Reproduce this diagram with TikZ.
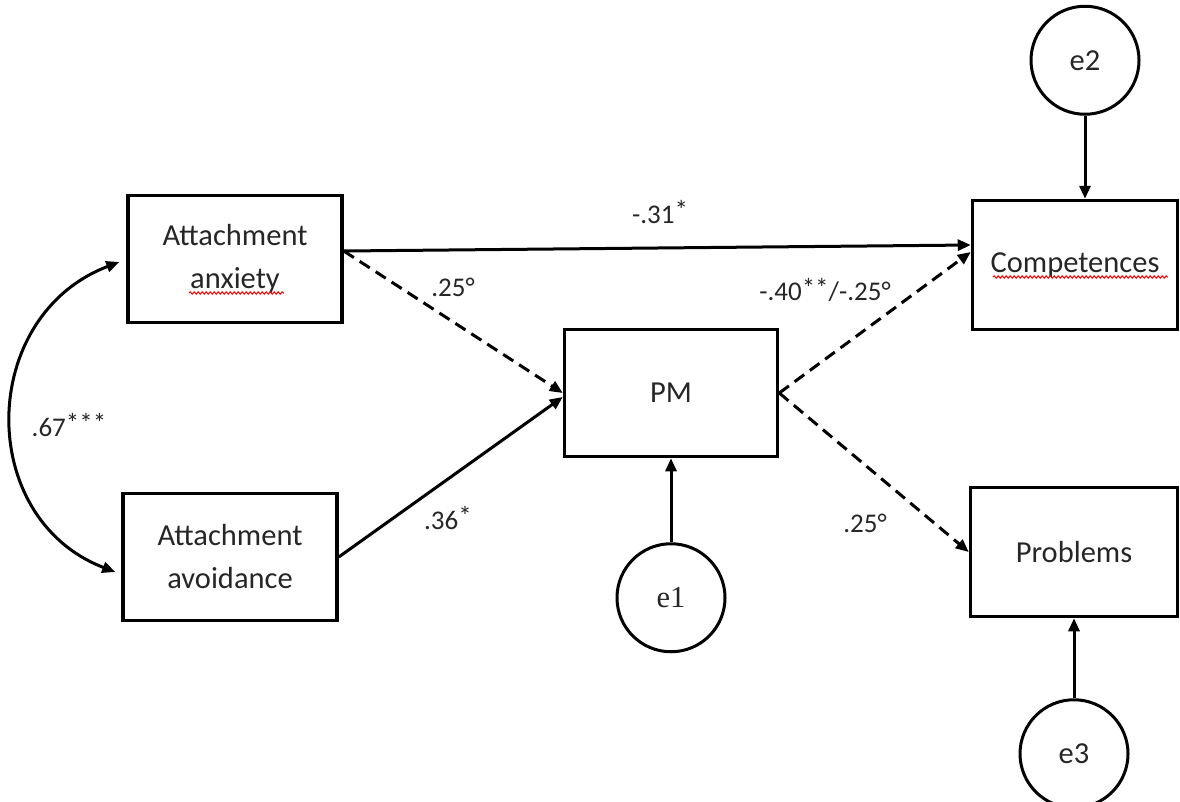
\documentclass[tikz,border=0pt]{standalone}
\usepackage{fontspec}
\setmainfont{Carlito}
\newfontfamily\eonefont{Liberation Serif}
\usetikzlibrary{positioning,arrows.meta,decorations.pathmorphing}

\newcommand\sig{\raisebox{.3ex}{*}}

\begin{document}
\begin{tikzpicture}[x=1pt, y=-1pt, node distance = 84pt,
    >={Triangle[length=13pt,width=11pt]},
    var/.style = {draw, line width=3.5pt, minimum width=214pt, minimum height=127pt,
                  align=center, text=black!85, font=\fontsize{30.5}{43}\selectfont},
    err/.style = {draw, circle, line width=3pt, minimum size=108pt, inner sep=0pt,
                  text=black!85, font=\fontsize{30.5}{36}\selectfont},
    path/.style = {line width=3pt, ->},
    dpath/.style = {path, dash pattern=on 12pt off 7pt},
    coef/.style = {text=black!85, font=\fontsize{27}{32}\selectfont},
    spell/.style = {red, line width=1pt, decorate,
                    decoration={snake, amplitude=1.2pt, segment length=4pt}}]

    \useasboundingbox (0,0) rectangle (1180,801);

    \node[var] (anx) at (235,259) {Attachment\\anxiety};
    \node[var] (avd) at (230,557) {Attachment\\avoidance};
    \node[var, minimum width=213pt] (pm) at (671,393) {PM};
    \node[var, minimum width=205pt, minimum height=129pt] (comp) at (1075,265) {Competences};
    \node[var, minimum width=207pt, minimum height=129pt] (prob) at (1074,552) {Problems};

    \node[err, below=of pm, font=\fontsize{30.5}{36}\eonefont] (e1) {e1};
    \node[err, above=83pt of comp, xshift=10pt] (e2) {e2};
    \node[err, below=80pt of prob] (e3) {e3};

    % paths
    \draw[path] ([yshift=8pt]anx.east) -- ([yshift=20pt]comp.west);
    \draw[dpath] ([yshift=8pt]anx.east) -- (pm.west);
    \draw[path] (avd.east) -- ([yshift=-4pt]pm.west);
    \draw[dpath] (pm.east) -- ([yshift=13pt]comp.west);
    \draw[dpath] (pm.east) -- (prob.west);

    \draw[path] (e1) -- (pm);
    \draw[path] (e2.south) -- (e2.south |- comp.north);
    \draw[path] (e3) -- (prob);

    % covariance
    \draw[line width=3pt, <->] ([xshift=-7pt,yshift=-3pt]anx.west)
        .. controls (-22,316) and (-25,518) .. ([xshift=-6pt,yshift=-15pt]avd.west);

    \node[coef] (c67) at (69,425) {.67\sig\sig\sig};
    \node[coef] (c31) at (660,212) {-.31\sig};
    \node[coef] (c25a) at (453,287) {.25°};
    \node[coef] (c36) at (448,518) {.36\sig};
    \node[coef] (c40) at (825,290) {-.40\sig\sig/-.25°};
    \node[coef] (c25b) at (865,523) {.25°};

    \draw[spell] (189,293) -- (284,293);
    \draw[spell] (993,277) -- (1168,277);

\end{tikzpicture}
\end{document}
